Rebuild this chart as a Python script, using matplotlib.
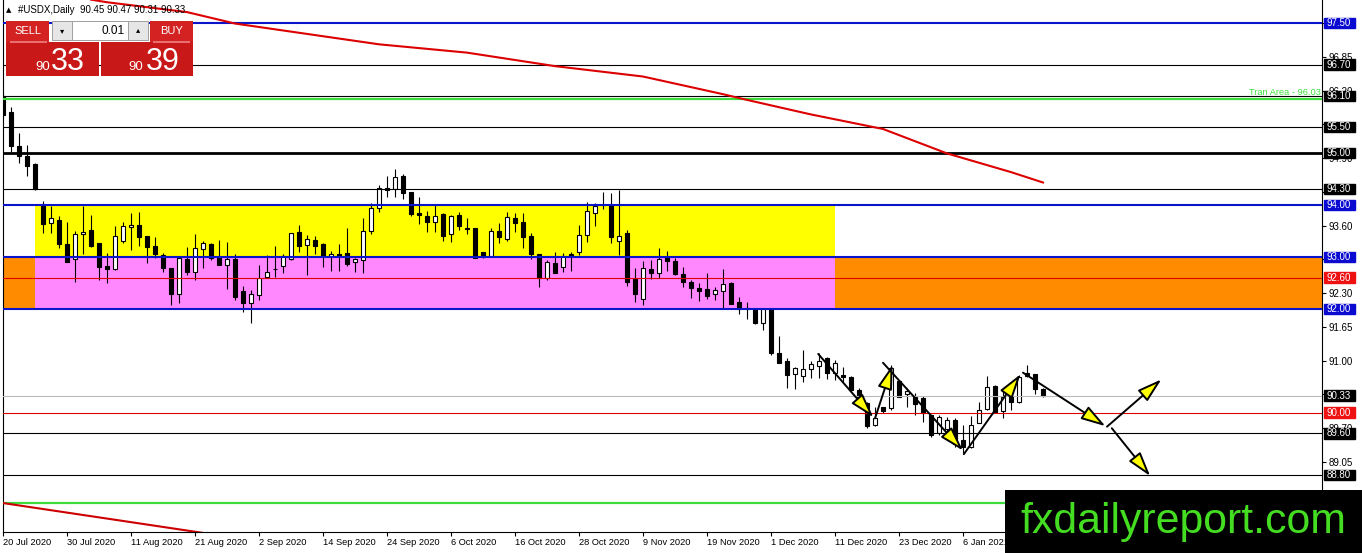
import matplotlib
matplotlib.use('Agg')
import matplotlib.pyplot as plt
from matplotlib.patches import Rectangle, FancyArrowPatch
import numpy as np

# ---------------- data ----------------
open_ = [96.10, 95.79, 95.13, 94.94, 94.79, 94.00, 93.65, 93.71, 93.25, 92.96,
         93.44, 93.51, 93.27, 92.82, 92.76, 93.30, 93.57, 93.61, 93.40, 93.21,
         93.03, 92.78, 92.28, 92.96, 92.71, 93.15, 93.25, 93.00, 92.84, 92.96,
         92.34, 92.11, 92.26, 92.61, 92.76, 92.82, 92.96, 93.48, 93.23, 93.32,
         93.25, 93.00, 93.05, 93.07, 92.90, 92.94, 93.50, 93.94, 94.32, 94.30,
         94.55, 94.25, 93.84, 93.78, 93.67, 93.82, 93.44, 93.80, 93.55, 93.55,
         93.09, 93.01, 93.49, 93.34, 93.75, 93.67, 93.40, 93.05, 92.59, 92.88,
         92.80, 93.05, 93.09, 93.42, 93.84, 93.99, 94.00, 93.30, 93.46, 92.57,
         92.19, 92.76, 92.69, 93.00, 92.92, 92.67, 92.51, 92.40, 92.38, 92.28,
         92.34, 92.49, 92.13, 92.01, 91.99, 91.73, 91.99, 91.15, 91.00, 90.75,
         90.70, 90.84, 90.90, 91.05, 90.76, 90.73, 90.69, 90.44, 90.19, 89.76,
         90.11, 90.09, 90.61, 90.36, 90.30, 90.28, 89.95, 89.61, 89.69, 89.86,
         89.47, 89.34, 89.80, 90.07, 90.51, 90.03, 90.32, 90.21, 90.76, 90.74,
         90.45]
high = [96.15, 95.88, 95.38, 95.15, 94.80, 94.07, 93.98, 93.78, 93.67, 93.50,
        93.98, 93.80, 93.27, 93.07, 93.59, 93.67, 93.84, 93.86, 93.40, 93.38,
        93.07, 92.78, 93.00, 93.19, 93.44, 93.30, 93.27, 93.32, 93.28, 93.05,
        92.44, 92.36, 92.84, 93.03, 93.21, 93.05, 93.46, 93.61, 93.42, 93.40,
        93.27, 93.11, 93.25, 93.55, 92.98, 93.75, 94.04, 94.38, 94.55, 94.69,
        94.59, 94.25, 94.15, 93.88, 94.00, 93.84, 93.80, 93.86, 93.75, 93.55,
        93.09, 93.55, 93.65, 93.86, 93.84, 93.84, 93.46, 93.05, 92.94, 93.09,
        93.07, 93.09, 93.61, 94.05, 94.03, 94.25, 94.23, 94.28, 93.51, 92.78,
        92.92, 92.94, 93.17, 93.11, 92.98, 92.80, 92.55, 92.49, 92.69, 92.42,
        92.76, 92.51, 92.23, 92.13, 92.00, 92.01, 92.00, 91.47, 91.05, 90.88,
        91.20, 90.99, 91.15, 91.07, 91.01, 90.88, 90.71, 90.48, 90.21, 90.11,
        90.11, 90.92, 90.63, 90.48, 90.38, 90.32, 89.95, 89.95, 89.92, 89.90,
        89.76, 89.93, 90.21, 90.71, 90.53, 90.44, 90.49, 90.72, 90.92, 90.74,
        90.47]
low = [95.70, 95.02, 94.81, 94.55, 94.28, 93.46, 93.46, 93.17, 92.90, 92.51,
       93.05, 93.19, 92.55, 92.50, 92.74, 93.27, 93.13, 93.21, 92.88, 92.98,
       92.71, 92.07, 92.11, 92.65, 92.55, 92.78, 92.94, 92.84, 92.38, 92.17,
       91.94, 91.73, 92.17, 92.61, 92.61, 92.69, 92.94, 93.09, 92.65, 93.05,
       92.80, 92.73, 92.73, 92.82, 92.71, 92.69, 93.44, 93.86, 94.15, 94.15,
       94.11, 93.78, 93.63, 93.48, 93.48, 93.30, 93.28, 93.51, 93.44, 92.98,
       92.98, 93.00, 93.26, 93.30, 93.48, 93.17, 92.96, 92.42, 92.55, 92.69,
       92.71, 92.73, 93.03, 93.28, 93.59, 93.92, 93.26, 93.03, 92.44, 92.13,
       92.07, 92.57, 92.59, 92.73, 92.65, 92.42, 92.21, 92.15, 92.19, 92.17,
       92.01, 92.09, 91.90, 91.80, 91.71, 91.59, 91.11, 90.96, 90.48, 90.46,
       90.59, 90.67, 90.67, 90.65, 90.63, 90.57, 90.42, 90.11, 89.70, 89.74,
       89.99, 90.05, 90.30, 90.11, 89.95, 89.82, 89.53, 89.57, 89.63, 89.34,
       89.22, 89.32, 89.80, 90.05, 90.00, 89.90, 90.05, 90.19, 90.69, 90.36,
       90.31]
close_ = [95.73, 95.13, 94.94, 94.75, 94.30, 93.63, 93.75, 93.25, 92.90, 93.44,
          93.48, 93.21, 92.80, 92.76, 93.40, 93.59, 93.61, 93.38, 93.19, 93.05,
          92.78, 92.28, 92.98, 92.71, 93.17, 93.26, 92.98, 92.84, 92.96, 92.22,
          92.11, 92.28, 92.59, 92.71, 92.77, 93.02, 93.46, 93.21, 93.34, 93.21,
          93.01, 93.05, 93.01, 92.86, 92.96, 93.50, 93.94, 94.32, 94.28, 94.53,
          94.23, 93.82, 93.80, 93.67, 93.78, 93.40, 93.78, 93.59, 93.53, 92.98,
          93.00, 93.49, 93.38, 93.76, 93.65, 93.38, 93.05, 92.59, 92.90, 92.69,
          93.01, 93.01, 93.42, 93.88, 93.98, 94.00, 93.38, 93.40, 92.51, 92.28,
          92.78, 92.69, 92.96, 92.92, 92.67, 92.51, 92.40, 92.34, 92.24, 92.36,
          92.47, 92.09, 91.99, 91.99, 91.73, 91.99, 91.15, 90.96, 90.73, 90.86,
          90.84, 90.94, 91.00, 90.76, 90.96, 90.69, 90.44, 90.17, 89.74, 89.90,
          90.03, 90.86, 90.30, 90.42, 90.17, 90.00, 89.57, 89.92, 89.86, 89.40,
          89.34, 89.76, 90.05, 90.49, 90.01, 90.30, 90.21, 90.69, 90.71, 90.46,
          90.33]

date_labels = ["20 Jul 2020", "30 Jul 2020", "11 Aug 2020", "21 Aug 2020", "2 Sep 2020",
               "14 Sep 2020", "24 Sep 2020", "6 Oct 2020", "16 Oct 2020", "28 Oct 2020",
               "9 Nov 2020", "19 Nov 2020", "1 Dec 2020", "11 Dec 2020", "23 Dec 2020",
               "6 Jan 2021", "18 Jan 2021"]
bars_per_label = 8

price_ticks = [97.50, 96.85, 96.20, 95.55, 94.90, 94.25, 93.60, 92.95, 92.30,
               91.65, 91.00, 90.35, 89.70, 89.05, 88.40]
# tick labels fully covered by level boxes in the reference
covered_ticks = [97.50, 95.55, 94.25, 90.35]

# horizontal levels
levels = [97.50, 96.70, 96.10, 95.50, 95.00, 94.30, 94.00, 93.00, 92.60, 92.00,
          90.33, 90.00, 89.60, 88.80]
level_line_colors = ['#0A14C8', 'black', 'black', 'black', 'black', 'black', '#0A14C8',
                     '#0A14C8', '#DD0000', '#0A14C8', '#BBBBBB', '#DD0000', 'black', 'black']
level_line_widths = [1.5, 0.8, 0.8, 0.8, 2.0, 0.8, 1.5, 1.5, 0.8, 1.5, 0.8, 0.8, 0.8, 0.8]
level_box_colors = ['#0A0AD0', 'black', 'black', 'black', 'black', 'black', '#0A0AD0',
                    '#0A0AD0', '#EE1111', '#0A0AD0', 'black', '#EE1111', 'black', 'black']

tran_upper = 96.03
tran_lower = 88.26

# zones (bar index from/to, price from/to)
yellow_zone = (4, 104, 93.00, 94.00)
pink_zone = (4, 104, 92.00, 93.00)
orange_zone = (0, 92.00, 93.00)

# moving averages (read points)
ma_bars = [11, 13, 23, 29, 47, 58, 69, 80, 90, 93, 101, 110, 118, 126, 130]
ma_vals = [97.95, 97.90, 97.71, 97.49, 97.09, 96.93, 96.67, 96.47, 96.13, 96.02,
           95.74, 95.46, 94.99, 94.63, 94.43]
ma2_bars = [0, 30]
ma2_vals = [88.26, 87.57]

# drawn arrows (bar, price)
arr_x0 = [101.9, 109.0, 110.0, 120.1, 127.5, 138.0, 138.6]
arr_y0 = [91.13, 89.89, 90.96, 89.20, 90.77, 89.73, 89.70]
arr_x1 = [108.8, 111.2, 120.0, 127.2, 137.8, 144.8, 143.4]
arr_y1 = [89.91, 90.92, 89.27, 90.74, 89.74, 90.64, 88.78]

header = "#USDX,Daily  90.45 90.47 90.31 90.33"
sell_big, sell_small = "33", "90"
buy_big, buy_small = "39", "90"
lot = "0.01"

# ---------------- figure ----------------
W, H = 1362, 553
fig = plt.figure(figsize=(W / 100, H / 100), dpi=100)
fig.patch.set_facecolor('white')
AX_L, AX_R, AX_T, AX_B = 2.5, 1322, 0, 532
ax = fig.add_axes([AX_L / W, (H - AX_B) / H, (AX_R - AX_L) / W, (AX_B - AX_T) / H])
axw = AX_R - AX_L
xmin, xmax = (AX_L - 3) / 8, (AX_R - 3) / 8
ymax = 97.943
ymin = ymax - AX_B * 0.019249
ax.set_xlim(xmin, xmax)
ax.set_ylim(ymin, ymax)

FONT = ['Liberation Sans', 'DejaVu Sans']

# zones
ax.add_patch(Rectangle((orange_zone[0], orange_zone[1]), xmax - orange_zone[0],
                       orange_zone[2] - orange_zone[1], fc='#FF8C00', ec='none', zorder=1))
ax.add_patch(Rectangle((yellow_zone[0], yellow_zone[2]), yellow_zone[1] - yellow_zone[0],
                       yellow_zone[3] - yellow_zone[2], fc='#FFFF00', ec='none', zorder=1))
ax.add_patch(Rectangle((pink_zone[0], pink_zone[2]), pink_zone[1] - pink_zone[0],
                       pink_zone[3] - pink_zone[2], fc='#FF88FF', ec='none', zorder=1))

# candles
x = np.arange(len(open_))
o = np.array(open_); c = np.array(close_)
hi = np.array(high); lo = np.array(low)
bull = c >= o
body_lo = np.minimum(o, c)
body_h = np.maximum(np.abs(c - o), 0.012)
ax.vlines(x, lo, hi, color='black', lw=0.8, zorder=3)
ax.bar(x, body_h, bottom=body_lo, width=0.62,
       color=np.where(bull, 'white', 'black'), edgecolor='black', linewidth=0.8, zorder=4)

# horizontal lines
for lv, col, lw in zip(levels, level_line_colors, level_line_widths):
    ax.axhline(lv, color=col, lw=lw, zorder=5)
ax.axhline(tran_upper, color='#3CDC3C', lw=1.6, zorder=5)
ax.axhline(tran_lower, color='#3CDC3C', lw=1.6, zorder=5)
ax.text(xmax - 0.2, tran_upper + 0.05, "Tran Area - %.2f" % tran_upper, color='#3CDC3C',
        fontsize=6.7, family=FONT, ha='right', va='bottom', zorder=6)

# moving averages
ax.plot(ma_bars, ma_vals, color='#DD0000', lw=1.5, zorder=6)
ax.plot(ma2_bars, ma2_vals, color='#CC0000', lw=1.5, zorder=6)

# arrows
for xa, ya, xb, yb in zip(arr_x0, arr_y0, arr_x1, arr_y1):
    ax.add_patch(FancyArrowPatch((xa, ya), (xb, yb),
                                 arrowstyle='-|>,head_length=1.5,head_width=0.45',
                                 mutation_scale=10, shrinkA=0, shrinkB=0,
                                 fc='#FFFF00', ec='black', lw=1.4, zorder=7))

# axes styling
for s in ['left', 'bottom', 'right']:
    ax.spines[s].set_color('black'); ax.spines[s].set_linewidth(0.8)
ax.spines['top'].set_visible(False)
ax.yaxis.tick_right()
ax.set_yticks(price_ticks)
ax.set_yticklabels(["" if t in covered_ticks else "%.2f" % t for t in price_ticks],
                   family=FONT, fontsize=7)
ax.tick_params(axis='y', length=3, width=0.8, pad=1.5, direction='out')
ax.set_xticks([bars_per_label * k for k in range(len(date_labels))])
ax.set_xticklabels(date_labels, family=FONT, fontsize=6.7, ha='left')
ax.tick_params(axis='x', length=3, width=0.8, pad=1.5, direction='out')

# right value boxes
for lv, bc in zip(levels, level_box_colors):
    ax.add_patch(Rectangle((1 + 1.5 / axw, lv - 0.1), 31 / axw, 0.2,
                           transform=ax.get_yaxis_transform(), fc=bc, ec=bc,
                           clip_on=False, zorder=8))
    ax.text(1 + 17 / axw, lv, "%.2f" % lv, transform=ax.get_yaxis_transform(),
            color='white', fontsize=7, family=FONT, ha='center', va='center',
            clip_on=False, zorder=9)

# ---------------- pixel helpers for overlays ----------------
def px_rect(x0, y0, x1, y1, **kw):
    r = Rectangle((x0 / W, 1 - y1 / H), (x1 - x0) / W, (y1 - y0) / H,
                  transform=fig.transFigure, **kw)
    fig.add_artist(r)

def px_text(xp, yp, s, **kw):
    fig.text(xp / W, 1 - yp / H, s, **kw)

# header
px_text(6, 10, "\u25B2", fontsize=5, family=['DejaVu Sans'], va='center', ha='left')
px_text(18, 10, header, fontsize=7, family=FONT, va='center', ha='left')

# trade panel
RED = '#C81818'
px_rect(6, 21, 49, 42, fc='#D42222', ec='none', zorder=10)
px_rect(6, 42, 99, 76, fc=RED, ec='none', zorder=10)
px_rect(150, 21, 193, 42, fc='#D42222', ec='none', zorder=10)
px_rect(101, 42, 193, 76, fc=RED, ec='none', zorder=10)
px_rect(10, 41.5, 47, 42.5, fc='#E87070', ec='none', zorder=11)
px_rect(153, 41.5, 190, 42.5, fc='#E87070', ec='none', zorder=11)
px_rect(52, 21, 72, 40, fc='#E6E6E6', ec='#A0A0A0', lw=0.7, zorder=10)
px_rect(72, 21, 128, 40, fc='white', ec='#A0A0A0', lw=0.7, zorder=10)
px_rect(128, 21, 148, 40, fc='#E6E6E6', ec='#A0A0A0', lw=0.7, zorder=10)
px_text(62, 30.5, "\u25BE", fontsize=6, family=['DejaVu Sans'], ha='center', va='center', zorder=12)
px_text(138, 30, "\u25B4", fontsize=6, family=['DejaVu Sans'], ha='center', va='center', zorder=12)
px_text(125, 30.5, lot, fontsize=8.5, family=FONT, ha='right', va='center', zorder=12)
px_text(27.5, 31, "SELL", fontsize=8, family=FONT, color='white', ha='center', va='center', zorder=12)
px_text(171.5, 31, "BUY", fontsize=8, family=FONT, color='white', ha='center', va='center', zorder=12)
px_text(35, 69.5, sell_small, fontsize=9.5, family=FONT, color='white', ha='left', va='baseline', zorder=12)
px_text(51, 70, sell_big, fontsize=22, family=FONT, color='white', ha='left', va='baseline', zorder=12)
px_text(128, 69.5, buy_small, fontsize=9.5, family=FONT, color='white', ha='left', va='baseline', zorder=12)
px_text(146, 70, buy_big, fontsize=22, family=FONT, color='white', ha='left', va='baseline', zorder=12)

# watermark
px_rect(1005, 490, 1362, 553, fc='black', ec='none', zorder=20)
px_text(1020, 533, "fxdailyreport.com", fontsize=30.8, family=FONT, color='#44DD22',
        ha='left', va='baseline', zorder=21)

fig.savefig('out.png', dpi=100)
